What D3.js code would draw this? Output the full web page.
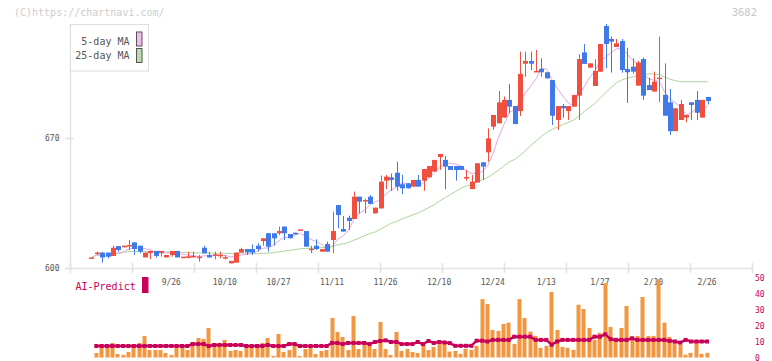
<!DOCTYPE html>
<html><head><meta charset="utf-8">
<script src="https://cdn.jsdelivr.net/npm/d3@7"></script>
<style>body{margin:0;background:#fff}svg{display:block}text{font-family:"DejaVu Sans Mono",monospace}</style>
</head><body><svg id="c" width="772" height="361"></svg>
<script>
const opens=[605.7,607.5,608.3,608.3,606.5,611.8,611.5,612.0,613.8,612.0,605.7,608.0,609.2,608.0,605.7,607.0,609.2,606.1,606.1,605.7,605.7,610.9,607.0,606.6,607.0,605.7,602.5,602.9,608.3,610.2,610.2,612.0,614.5,618.7,618.7,618.7,622.3,618.3,619.0,620.8,619.9,610.2,612.0,608.8,612.9,615.1,633.9,621.0,627.1,626.4,638.4,636.4,638.4,629.4,632.1,647.0,648.8,651.3,645.1,645.6,643.8,647.4,647.0,648.8,651.9,659.8,658.2,654.9,654.9,654.9,648.8,642.5,646.0,656.9,662.3,676.1,677.9,681.0,690.5,687.2,684.5,710.0,711.5,706.1,707.2,705.4,701.2,679.7,687.2,684.5,686.9,692.8,716.1,707.9,698.0,705.7,730.3,723.3,719.0,722.2,707.2,708.4,698.2,712.5,698.5,695.0,702.3,693.2,689.2,673.7,679.7,681.0,689.2,690.5,681.0,692.1];
const highs=[605.7,608.8,608.5,608.3,612.0,611.8,612.0,615.1,613.8,612.0,608.3,609.2,609.2,609.2,607.0,609.2,609.2,606.1,608.8,608.8,607.0,612.0,608.8,608.8,608.8,607.0,603.8,608.3,610.9,610.2,612.7,613.3,616.0,618.7,618.7,622.3,622.3,618.3,619.0,620.8,619.9,612.0,615.4,610.2,614.2,630.3,633.9,628.0,628.2,641.1,638.4,637.2,639.3,632.5,649.8,650.1,650.9,657.3,650.1,645.6,647.4,650.1,653.3,654.9,658.2,661.4,660.3,654.9,654.9,654.9,652.8,650.1,656.4,656.9,675.2,682.4,695.3,692.3,699.1,687.2,716.5,716.5,716.5,717.4,712.9,705.4,701.2,687.2,688.3,687.2,693.2,715.1,720.6,710.2,712.4,720.6,731.4,724.6,723.3,723.3,718.6,712.9,711.5,713.3,702.5,705.7,724.6,710.2,696.4,686.0,690.5,682.4,689.2,695.3,690.5,692.1];
const lows=[605.7,607.0,602.9,605.2,606.5,608.8,611.0,609.7,607.0,607.9,605.7,604.7,605.7,606.1,605.7,606.1,605.7,606.1,605.2,605.7,603.4,607.9,605.7,604.7,605.2,604.7,602.5,602.9,608.3,607.0,607.0,608.8,612.0,608.8,612.0,617.8,615.1,616.0,618.1,620.8,611.5,608.0,609.7,608.8,608.8,607.9,621.4,619.6,620.5,626.4,629.4,629.4,634.5,629.4,632.1,642.5,641.5,641.6,639.8,642.9,643.8,643.8,641.6,648.8,651.9,652.8,642.5,652.8,647.0,652.8,647.0,642.5,646.0,647.4,657.3,674.5,677.9,681.0,683.3,677.5,681.9,703.0,706.6,705.7,703.0,702.1,677.0,674.3,681.0,679.7,686.9,679.7,709.9,707.9,698.0,705.7,707.6,705.2,719.0,705.2,688.9,704.8,698.2,690.5,695.8,695.0,689.2,682.0,671.6,673.7,679.7,678.4,679.7,679.7,681.0,688.0];
const closes=[605.7,608.3,605.7,606.1,610.9,609.7,612.0,612.4,610.2,608.8,608.3,609.2,606.5,609.2,607.0,609.2,605.7,606.1,606.3,606.5,606.1,607.9,605.7,607.4,607.1,605.8,603.8,608.3,610.2,608.4,608.3,610.2,616.0,611.5,616.0,619.9,618.7,616.0,618.1,620.8,611.5,610.4,610.2,610.2,608.8,619.9,628.5,619.6,625.3,638.4,635.7,636.6,634.5,632.5,646.5,649.2,647.4,643.8,642.9,642.9,647.4,643.8,653.3,654.9,658.2,661.4,654.6,652.8,652.8,652.8,649.0,646.5,656.4,654.6,669.8,682.4,689.2,690.5,686.9,677.5,704.5,711.5,710.0,706.1,705.4,702.1,682.0,687.2,686.0,687.2,693.2,712.5,709.9,710.2,706.1,720.6,720.6,721.9,721.0,706.6,705.4,705.7,710.6,692.8,695.8,700.3,702.5,682.0,673.7,686.0,688.3,682.4,687.8,683.6,690.5,689.9];
const volumes=[0,2.8,7.2,7.2,9.1,2.2,1.6,3.4,6.8,9.1,13.4,4.7,4.7,4.7,2.8,1.6,7.2,7.2,4.7,9.7,12.2,11.6,18.4,9.1,6.6,11.0,4.1,4.7,4.1,6.6,6.6,6.6,9.1,12.2,1.0,14.7,3.4,4.7,9.7,1.0,5.3,6.6,2.2,4.1,4.7,24.7,16.0,12.8,4.7,26.0,5.3,8.4,7.2,5.3,22.2,5.3,1.6,16.0,4.1,5.3,3.4,2.8,7.2,4.7,6.6,8.4,10.3,3.7,4.1,2.3,5.4,4.8,7.3,36.5,33.4,17.2,16.6,21.0,21.8,8.5,36.5,24.7,16.2,13.5,6.0,7.3,40.9,17.2,6.6,6.0,4.8,33.0,30.3,18.5,11.0,15.4,46.5,19.1,11.0,18.5,32.2,11.6,13.5,37.8,13.5,13.5,49.0,21.8,12.9,9.1,7.9,1.7,2.9,9.8,2.3,2.9];
const aiPredict=[null,7.2,7.2,7.2,7.2,7.2,7.2,7.2,7.2,7.2,7.2,7.2,7.2,7.2,7.2,7.2,7.2,7.2,7.2,8.4,8.4,8.4,7.2,7.8,7.8,7.8,7.8,7.8,7.8,7.2,7.2,7.2,7.2,7.8,7.2,7.2,7.2,8.4,8.4,7.2,7.2,7.2,7.2,7.2,7.2,9.1,9.1,8.4,9.1,9.1,9.1,9.1,8.4,9.7,10.3,10.7,9.7,9.7,8.4,8.4,8.4,9.7,8.4,10.3,9.1,9.7,9.4,9.0,7.3,7.3,7.3,7.3,10.5,10.5,10.0,11,11,11,11,13,13,13,13,11,11,11,8,10,11,11,11,11,11,11,13,13,14.5,11.5,11,11,11,12,11,11,11,11,11,11,10.4,10,9.3,11,10,10,10,10];
const dateLabels=["9/26","10/10","10/27","11/11","11/26","12/10","12/24","1/13","1/27","2/10","2/26"];
const dateIndex=[15,25,35,45,55,65,75,85,95,105,115];
const priceTicks=[600,670];
const volTicks=[0,10,20,30,40,50];
const legendLabels=["5-day MA","25-day MA"];

const svg=d3.select("#c");
const RED="#f04e3e",BLUE="#4079e8",AXIS="#e2e2e2",CRIM="#c8005a";
const x=d3.scaleLinear().domain([-4,123.3]).range([70,752]);
const y=d3.scaleLinear().domain([600,670]).range([268,138]);
const yv=d3.scaleLinear().domain([0,50]).range([357.5,277.5]);
const grid=d3.scaleLinear().domain([0,11]).range([70,752]);

function ma(n){return closes.map((c,i)=>{const s=closes.slice(Math.max(0,i-n+1),i+1);return d3.mean(s);});}
const ma5=ma(5),ma25=ma(25);

svg.append("text").attr("x",14).attr("y",16).attr("font-size",10).attr("fill","#cccccc").text("(C)https://chartnavi.com/");
svg.append("text").attr("x",757).attr("y",16).attr("text-anchor","end").attr("font-size",10.5).attr("fill","#c8c8c8").text("3682");

svg.append("line").attr("x1",70.5).attr("x2",70.5).attr("y1",24).attr("y2",268).attr("stroke",AXIS).attr("stroke-width",1.5);
svg.append("line").attr("x1",65).attr("x2",752).attr("y1",268.5).attr("y2",268.5).attr("stroke",AXIS).attr("stroke-width",1.5);
svg.selectAll(".gt").data(d3.range(12)).join("line").attr("x1",d=>Math.round(grid(d))+0.5).attr("x2",d=>Math.round(grid(d))+0.5).attr("y1",263).attr("y2",273).attr("stroke",AXIS).attr("stroke-width",1.5);
svg.selectAll(".pt").data(priceTicks).join("line").attr("x1",65).attr("x2",74).attr("y1",d=>y(d)+0.5).attr("y2",d=>y(d)+0.5).attr("stroke",AXIS).attr("stroke-width",1.5);
svg.selectAll(".pl").data(priceTicks).join("text").attr("x",59.5).attr("y",d=>y(d)+3).attr("text-anchor","end").attr("font-size",8).attr("fill","#555").text(d=>d);
svg.selectAll(".dl").data(dateIndex).join("text").attr("x",d=>x(d)-0.5).attr("y",285).attr("text-anchor","middle").attr("font-size",8).attr("fill","#555").text((d,i)=>dateLabels[i]);

const lineP=d3.line().x((d,i)=>x(i)).y(d=>y(d));
svg.append("path").attr("d",lineP(ma25)).attr("fill","none").attr("stroke","#acd69c").attr("stroke-width",1);
svg.append("path").attr("d",lineP(ma5)).attr("fill","none").attr("stroke","#e6a6e6").attr("stroke-width",1);

const idx=d3.range(closes.length);
const cg=svg.append("g");
cg.selectAll("line").data(idx).join("line")
  .attr("x1",i=>Math.round(x(i))+0.5).attr("x2",i=>Math.round(x(i))+0.5)
  .attr("y1",i=>y(highs[i])).attr("y2",i=>y(lows[i]))
  .attr("stroke",i=>closes[i]>=opens[i]?RED:BLUE).attr("stroke-width",1);
cg.selectAll("rect").data(idx).join("rect")
  .attr("x",i=>Math.round(x(i))-2).attr("width",5)
  .attr("y",i=>y(Math.max(opens[i],closes[i])))
  .attr("height",i=>Math.max(1.5,Math.abs(y(opens[i])-y(closes[i]))))
  .attr("fill",i=>closes[i]>=opens[i]?RED:BLUE);

const lg=svg.append("g");
lg.append("rect").attr("x",70.5).attr("y",24.5).attr("width",78).attr("height",46.5).attr("fill","#fff").attr("stroke","#dddddd");
lg.selectAll("text").data(legendLabels).join("text").attr("x",129.5).attr("y",(d,i)=>44.5+i*14).attr("text-anchor","end").attr("font-size",10).attr("fill","#555").text(d=>d);
lg.selectAll(".sw").data(["#f0bcf0","#bcdcb0"]).join("rect").attr("x",136.5).attr("y",(d,i)=>32+i*16.5).attr("width",5.5).attr("height",14).attr("fill",d=>d).attr("stroke","#555");

svg.selectAll(".vb").data(idx.filter(i=>volumes[i]>0)).join("rect")
  .attr("x",i=>Math.round(x(i))-2.5).attr("width",4)
  .attr("y",i=>yv(volumes[i])).attr("height",i=>yv(0)-yv(volumes[i]))
  .attr("fill","#f29640");
const aiPts=idx.filter(i=>aiPredict[i]!=null);
svg.append("path").attr("d",d3.line().x(i=>x(i)-0.5).y(i=>yv(aiPredict[i]))(aiPts)).attr("fill","none").attr("stroke",CRIM).attr("stroke-width",2.5);
svg.selectAll(".ap").data(aiPts).join("rect").attr("x",i=>x(i)-2.5).attr("y",i=>yv(aiPredict[i])-2).attr("width",4).attr("height",4).attr("fill",CRIM);
svg.selectAll(".vl").data(volTicks).join("text").attr("x",755).attr("y",d=>yv(d)+3).attr("font-size",8).attr("fill",CRIM).text(d=>d);
svg.append("text").attr("x",75.5).attr("y",290).attr("font-size",10).attr("fill",CRIM).text("AI-Predict");
svg.append("rect").attr("x",142).attr("y",277).attr("width",6.5).attr("height",16).attr("fill",CRIM);
</script></body></html>
